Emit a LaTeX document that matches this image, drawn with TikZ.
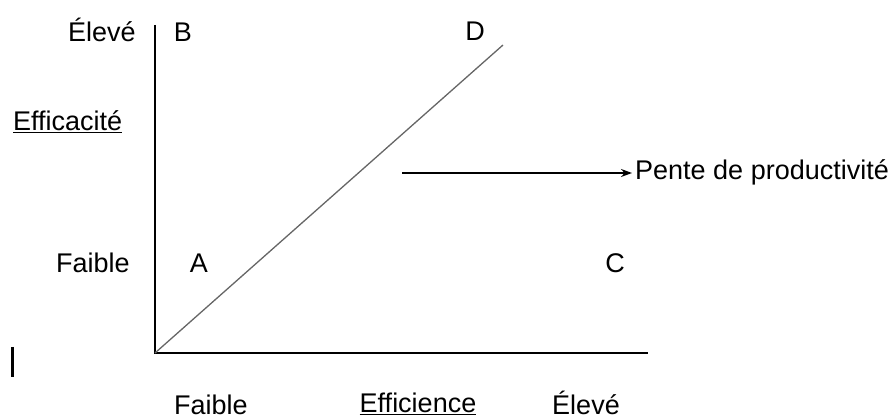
\documentclass[tikz,border=0pt]{standalone}
\usepackage{fontspec}
\setmainfont{Liberation Sans}
\usetikzlibrary{arrows.meta}

\begin{document}
\begin{tikzpicture}[x=1pt, y=-1pt,
  lbl/.style={anchor=base, inner sep=0pt, font=\fontsize{27}{30}\selectfont},
  axis/.style={line width=2pt},
  slope/.style={line width=1.3pt, black!60}]
\useasboundingbox (0,0) rectangle (892,419);

\coordinate (o) at (155,353);
\coordinate (ytop) at (155,25);
\coordinate (xend) at (648,353);
\coordinate (dtop) at (503,45);
\coordinate (p) at (402,173);
\coordinate (cur1) at (12,347);
\coordinate (cur2) at (12,377);

\node[lbl] (yhi) at (102,42) {Élevé};
\node[lbl] (b) at (183,42) {B};
\node[lbl] (d) at (475,41) {D};
\node[lbl, anchor=base west] (eff) at (13,131) {\underline{Efficacité}};
\node[lbl] (ylo) at (93,273) {Faible};
\node[lbl] (a) at (199,273) {A};
\node[lbl] (c) at (615,273) {C};
\node[lbl, anchor=base west] (pente) at (635,180) {Pente de productivité};
\node[lbl] (xlo) at (211,415) {Faible};
\node[lbl] (effc) at (418,413) {\underline{Efficience}};
\node[lbl] (xhi) at (586,415) {Élevé};

\draw[axis] (ytop) -- (o) -- (xend);
\draw[slope] (o) -- (dtop);
\draw[-{Stealth[length=11pt,width=8pt]}, line width=1.3pt, shorten >=3pt] (p) -- (p -| pente.west);
\draw[line width=3pt] (cur1) -- (cur2);
\end{tikzpicture}
\end{document}
